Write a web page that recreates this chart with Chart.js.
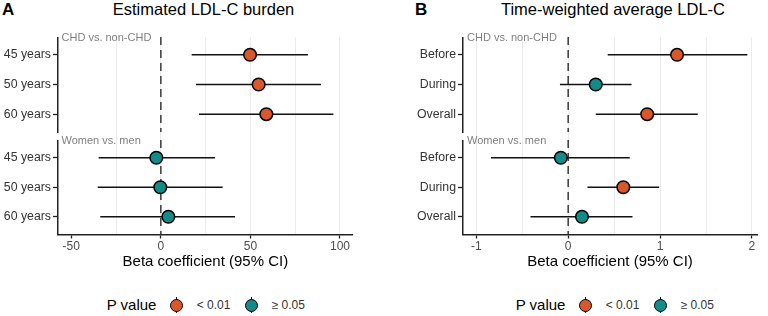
<!DOCTYPE html>
<html>
<head>
<meta charset="utf-8">
<script src="https://cdn.jsdelivr.net/npm/chart.js@4.4.1/dist/chart.umd.min.js"></script>
<style>
  body { margin: 0; background: #fff; width: 768px; height: 316px; position: relative; overflow: hidden;
         font-family: "Liberation Sans", Arial, sans-serif; }
  canvas { position: absolute; }
  .txt { position: absolute; white-space: nowrap; }
  .title { font-size: 16.5px; line-height: 19px; top: 0; color: #000; transform: translateX(-50%); }
  .letter { font-size: 17px; font-weight: bold; line-height: 20px; top: 0; color: #000; }
  .strip { font-size: 11px; line-height: 13px; color: #808080; }
  .legtitle { font-size: 15px; line-height: 18px; top: 296px; color: #000; }
  .legtext { font-size: 12px; line-height: 14px; top: 298px; color: #333; }
  .key { position: absolute; width: 14px; height: 16px; top: 297px; }
  .key i { position: absolute; left: 6.25px; top: 0; width: 1.5px; height: 16px; background: #111; }
  .key b { position: absolute; left: 0.5px; top: 1.5px; width: 13px; height: 13px; border-radius: 50%;
           border: 1.5px solid #000; box-sizing: border-box; }
</style>
</head>
<body>
<div class="txt letter" style="left:2px;">A</div>
<div class="txt title" style="left:203.5px;">Estimated LDL-C burden</div>
<div class="txt letter" style="left:415px;">B</div>
<div class="txt title" style="left:613px;">Time-weighted average LDL-C</div>

<canvas id="burdenTop" width="360" height="103" style="left:0;top:37px;"></canvas>
<canvas id="burdenBottom" width="360" height="131" style="left:0;top:140px;"></canvas>
<canvas id="twaTop" width="384" height="103" style="left:384px;top:37px;"></canvas>
<canvas id="twaBottom" width="384" height="131" style="left:384px;top:140px;"></canvas>

<div class="txt strip" style="left:61.5px;top:31px;">CHD vs. non-CHD</div>
<div class="txt strip" style="left:61.5px;top:134px;">Women vs. men</div>
<div class="txt strip" style="left:467px;top:31px;">CHD vs. non-CHD</div>
<div class="txt strip" style="left:467px;top:134px;">Women vs. men</div>

<div id="legends"></div>

<script>
// Panel A: estimated LDL-C burden
var burdenLabels = ['45 years', '50 years', '60 years'];
var burdenChdEst = [49.8, 54.6, 58.9];
var burdenChdLow = [17.2, 19.6, 21.3];
var burdenChdHigh = [82.1, 89.4, 96.3];
var burdenChdP = ['< 0.01', '< 0.01', '< 0.01'];
var burdenSexEst = [-2.5, -0.3, 4.2];
var burdenSexLow = [-34.7, -35.2, -33.8];
var burdenSexHigh = [30.2, 34.5, 41.4];
var burdenSexP = ['≥ 0.05', '≥ 0.05', '≥ 0.05'];
var burdenTicks = [-50, -25, 0, 25, 50, 75, 100];
var burdenTickLabels = [-50, 0, 50, 100];

// Panel B: time-weighted average LDL-C
var twaLabels = ['Before', 'During', 'Overall'];
var twaChdEst = [1.185, 0.30, 0.86];
var twaChdLow = [0.43, -0.09, 0.30];
var twaChdHigh = [1.95, 0.69, 1.41];
var twaChdP = ['< 0.01', '≥ 0.05', '< 0.01'];
var twaSexEst = [-0.08, 0.60, 0.15];
var twaSexLow = [-0.84, 0.21, -0.41];
var twaSexHigh = [0.67, 0.99, 0.70];
var twaSexP = ['≥ 0.05', '< 0.01', '≥ 0.05'];
var twaTicks = [-1, -0.5, 0, 0.5, 1, 1.5, 2];
var twaTickLabels = [-1, 0, 1, 2];

var pLevels = ['< 0.01', '≥ 0.05'];
var pColors = ['#D9572B', '#138B89'];

Chart.defaults.font.family = "'Liberation Sans', Arial, sans-serif";

function facetChart(id, cfg) {
    var datasets = [];
    // dashed reference line at zero
    datasets.push({
        data: [{x: 0, y: 0.4}, {x: 0, y: 3.6}],
        showLine: true, borderColor: '#444', borderWidth: 1.6, borderDash: [8, 5],
        pointRadius: 0, order: 3
    });
    // confidence intervals
    for (var i = 0; i < cfg.est.length; i++) {
        datasets.push({
            data: [{x: cfg.low[i], y: i + 1}, {x: cfg.high[i], y: i + 1}],
            showLine: true, borderColor: '#111', borderWidth: 1.5, pointRadius: 0, order: 2
        });
    }
    // point estimates
    datasets.push({
        data: cfg.est.map(function (v, i) { return {x: v, y: i + 1}; }),
        pointRadius: 6.3,
        pointBackgroundColor: cfg.p.map(function (p) { return pColors[pLevels.indexOf(p)]; }),
        pointBorderColor: '#000', pointBorderWidth: 1.5, order: 1
    });

    var gridColor = function (c) {
        return c.tick && c.tick.value === cfg.hiddenGrid ? 'rgba(0,0,0,0)' : '#EBEBEB';
    };
    var tickMarkColor = function (c) {
        return c.tick && cfg.tickLabels.indexOf(c.tick.value) >= 0 ? '#222' : 'rgba(0,0,0,0)';
    };

    return new Chart(document.getElementById(id).getContext('2d'), {
        type: 'scatter',
        data: {datasets: datasets},
        options: {
            responsive: false,
            animation: false,
            events: [],
            // no automatic padding for the point radius: the chart area is placed by hand
            layout: {autoPadding: false, padding: {left: 0, right: cfg.padRight, top: 0, bottom: 0}},
            plugins: {legend: {display: false}, tooltip: {enabled: false}},
            scales: {
                x: {
                    type: 'linear', min: cfg.xMin, max: cfg.xMax,
                    afterBuildTicks: function (axis) {
                        axis.ticks = cfg.ticks.map(function (v) { return {value: v}; });
                    },
                    afterFit: function (axis) {
                        axis.height = cfg.xHeight;
                        axis.paddingLeft = 0; axis.paddingRight = 0;
                    },
                    grid: {
                        color: gridColor, lineWidth: 1, drawTicks: true,
                        tickLength: cfg.bottom ? 4 : 8,
                        tickColor: cfg.bottom ? tickMarkColor : gridColor,
                        tickWidth: cfg.bottom ? 1.3 : 1
                    },
                    border: {display: cfg.bottom, color: '#222', width: 1.5},
                    ticks: {
                        display: cfg.bottom, color: '#4D4D4D', font: {size: 12}, padding: 1,
                        maxRotation: 0, autoSkip: false,
                        callback: function (v) { return cfg.tickLabels.indexOf(v) >= 0 ? String(v) : ''; }
                    },
                    title: {
                        display: cfg.bottom, text: 'Beta coefficient (95% CI)', color: '#000',
                        font: {size: 15}, padding: 0
                    }
                },
                y: {
                    type: 'linear', min: 0.4, max: 3.6, reverse: true,
                    afterBuildTicks: function (axis) {
                        axis.ticks = [1, 2, 3].map(function (v) { return {value: v}; });
                    },
                    afterFit: function (axis) {
                        axis.width = cfg.yWidth;
                        axis.paddingTop = 0; axis.paddingBottom = 0;
                    },
                    grid: {drawOnChartArea: false, drawTicks: true, tickLength: 5, tickColor: '#222', tickWidth: 1.3},
                    border: {color: '#222', width: 1.5},
                    ticks: {
                        color: '#333', font: {size: 12.3, lineHeight: 0.01}, padding: 2, autoSkip: false,
                        callback: function (v) { return cfg.labels[Math.round(v) - 1]; }
                    }
                }
            }
        }
    });
}

var burdenBase = {labels: burdenLabels, ticks: burdenTicks, tickLabels: burdenTickLabels,
                  xMin: -57.4, xMax: 107.1, yWidth: 58, padRight: 7.3, hiddenGrid: -50};
var twaBase = {labels: twaLabels, ticks: twaTicks, tickLabels: twaTickLabels,
               xMin: -1.145, xMax: 2.055, yWidth: 79, padRight: 11, hiddenGrid: null};

function withFacet(base, est, low, high, p, bottom) {
    var c = Object.assign({}, base);
    c.est = est; c.low = low; c.high = high; c.p = p; c.bottom = bottom;
    c.xHeight = bottom ? 36.5 : 8;
    return c;
}

facetChart('burdenTop', withFacet(burdenBase, burdenChdEst, burdenChdLow, burdenChdHigh, burdenChdP, false));
facetChart('burdenBottom', withFacet(burdenBase, burdenSexEst, burdenSexLow, burdenSexHigh, burdenSexP, true));
facetChart('twaTop', withFacet(twaBase, twaChdEst, twaChdLow, twaChdHigh, twaChdP, false));
facetChart('twaBottom', withFacet(twaBase, twaSexEst, twaSexLow, twaSexHigh, twaSexP, true));

// legends under each panel
var legendStarts = [106.7, 515.7];
var html = '';
legendStarts.forEach(function (x0) {
    html += '<div class="txt legtitle" style="left:' + x0 + 'px;">P value</div>';
    pLevels.forEach(function (lvl, k) {
        var cx = x0 + 70 + k * 75;
        html += '<div class="key" style="left:' + (cx - 7) + 'px;"><i></i><b style="background:' + pColors[k] + '"></b></div>';
        html += '<div class="txt legtext" style="left:' + (cx + 20) + 'px;">' + lvl + '</div>';
    });
});
document.getElementById('legends').innerHTML = html;
</script>
</body>
</html>
